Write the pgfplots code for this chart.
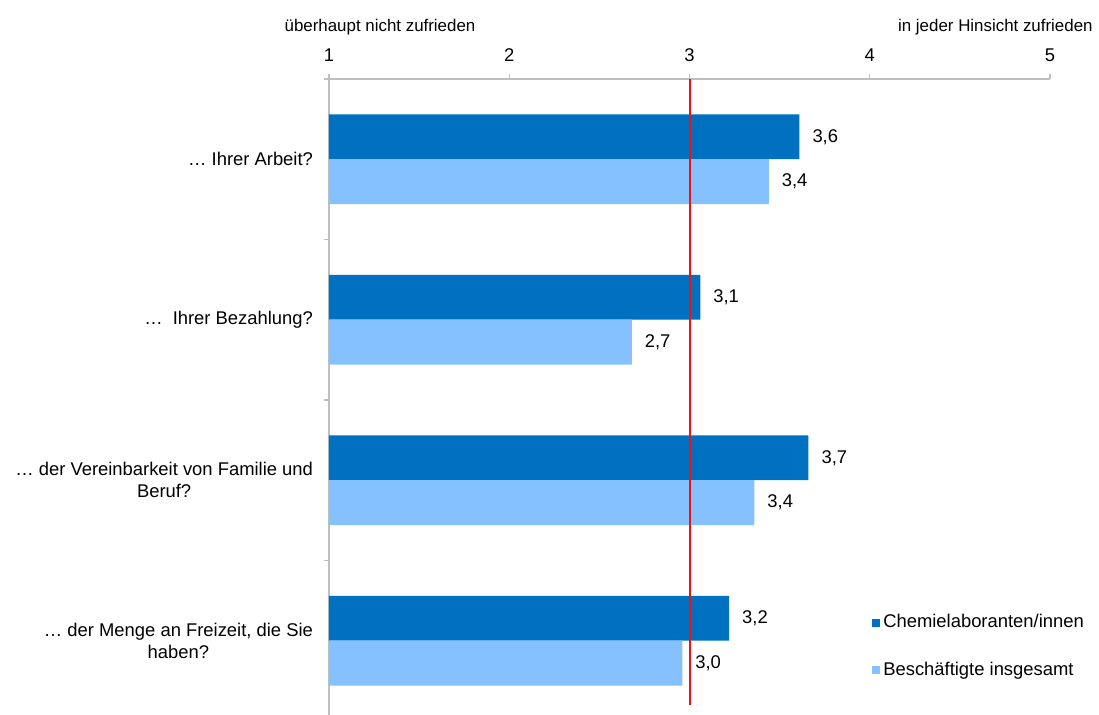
\documentclass[border=0pt]{standalone}
\usepackage{fontspec}
\setmainfont{Liberation Sans}
\usepackage{pgfplots}
\pgfplotsset{compat=1.18}
\definecolor{darkb}{HTML}{0070C0}
\definecolor{lightb}{HTML}{85C1FF}
\definecolor{axgray}{HTML}{BFBFBF}
\definecolor{refline}{RGB}{235,20,20}
\newcommand{\lblfont}{\fontsize{9.2}{11}\selectfont}
\newcommand{\hdrfont}{\fontsize{8.45}{10}\selectfont}
\begin{document}
\begin{tikzpicture}
\begin{axis}[
  at={(164.5pt,-39.5pt)}, anchor=north west,
  scale only axis, width=360.5pt, height=318pt,
  xmin=1, xmax=5, ymin=-0.463, ymax=3.5,
  axis x line*=top, axis y line*=left,
  axis line style={draw=axgray, line width=0.7pt, -},
  tick align=outside,
  major tick length=2.5pt, minor tick length=2.5pt,
  tick style={draw=axgray, line width=0.6pt},
  xtick={1,2,3,4,5}, xticklabels={1,2,3,4,5},
  xticklabel style={anchor=base, yshift=6pt, font=\lblfont},
  ytick={0,1,2,3},
  yticklabels={{… der Menge an Freizeit, die Sie\\haben?},{… der Vereinbarkeit von Familie und\\Beruf?},{…\hspace{0.55em}Ihrer Bezahlung?},{… Ihrer Arbeit?}},
  yticklabel style={anchor=east, align=center, xshift=-2pt, font=\lblfont},
  every major y tick/.append style={draw=none},
  minor ytick={0.5,1.5,2.5,3.5},
  /pgf/number format/assume math mode=true,
  legend style={draw=none, fill=none, at={(0.753,0.108)}, anchor=west,
    font=\lblfont, row sep=12.5pt, inner sep=0pt,
    nodes={inner sep=1.5pt}},
  legend cell align=left,
  legend image code/.code={\fill[#1] (0pt,-2pt) rectangle (4pt,2pt);},
]
\addplot[xbar, bar width=0.28, bar shift=0.14, fill=darkb, draw=none,
  nodes near coords={\pgfmathprintnumber[fixed,fixed zerofill,precision=1,use comma,assume math mode=true]{\pgfplotspointmeta}},
  every node near coord/.append style={anchor=west, font=\lblfont, xshift=3pt, yshift=11.2pt, text=black}]
  coordinates {(3.61,3) (3.06,2) (3.66,1) (3.22,0)};
\addlegendentry{Chemielaboranten/innen}
\addplot[xbar, bar width=0.28, bar shift=-0.14, fill=lightb, draw=none,
  nodes near coords={\pgfmathprintnumber[fixed,fixed zerofill,precision=1,use comma,assume math mode=true]{\pgfplotspointmeta}},
  every node near coord/.append style={anchor=west, font=\lblfont, xshift=3pt, yshift=-11.2pt, text=black}]
  coordinates {(3.44,3) (2.68,2) (3.36,1) (2.96,0)};
\addlegendentry{Beschäftigte insgesamt}
\addplot[refline, line width=1.0pt, forget plot, mark=none] coordinates {(3,3.5) (3,-0.40)};
\end{axis}
\node[anchor=base, font=\hdrfont, inner sep=0pt] at (190pt,-16pt) {überhaupt nicht zufrieden};
\node[anchor=base east, font=\hdrfont, inner sep=0pt] at (546.5pt,-16pt) {in jeder Hinsicht zufrieden};
\pgfresetboundingbox
\useasboundingbox (0,0) rectangle (549.5pt,-357.5pt);
\end{tikzpicture}
\end{document}
